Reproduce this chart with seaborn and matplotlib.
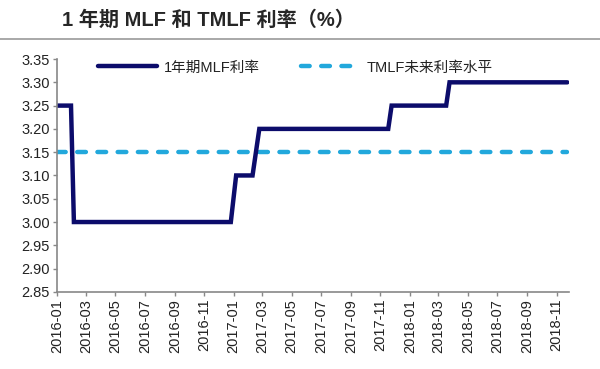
import pandas as pd
import numpy as np
import matplotlib
matplotlib.use('Agg')
import matplotlib.pyplot as plt
import matplotlib.dates as mdates
from matplotlib.lines import Line2D
import seaborn as sns

# 1-year MLF rate (each change has a start and end point)
mlf_dates = ['2016-01-01', '2016-01-30', '2016-02-05', '2016-12-26', '2017-01-06',
             '2017-02-09', '2017-02-23', '2017-11-17', '2017-11-24', '2018-03-17',
             '2018-03-24', '2018-11-23']
mlf_values = [3.25, 3.25, 3.00, 3.00, 3.10, 3.10, 3.20, 3.20, 3.25, 3.25, 3.30, 3.30]

# TMLF rate level
tmlf_dates = ['2016-01-01', '2018-11-23']
tmlf_values = [3.15, 3.15]

title = '1 年期 MLF 和 TMLF 利率（%）'
mlf_label = '1年期MLF利率'
tmlf_label = 'TMLF未来利率水平'
y_ticks = [2.85, 2.90, 2.95, 3.00, 3.05, 3.10, 3.15, 3.20, 3.25, 3.30, 3.35]

mlf = pd.DataFrame({'date': pd.to_datetime(mlf_dates), 'rate': mlf_values})
tmlf = pd.DataFrame({'date': pd.to_datetime(tmlf_dates), 'rate': tmlf_values})

sns.set_theme(style='white')
plt.rcParams['font.family'] = ['Liberation Sans', 'Noto Sans CJK SC', 'DejaVu Sans']

navy = '#0c0c6b'
sky = '#22a8dc'
dash = [1.95, 2.6]

fig = plt.figure(figsize=(6, 3.69), dpi=100)
ax = fig.add_axes([0.095, 0.209, 0.853, 0.631])

sns.lineplot(data=tmlf, x='date', y='rate', ax=ax, color=sky, lw=3.2)
ax.lines[-1].set_dashes(dash)
ax.lines[-1].set_dash_capstyle('round')
sns.lineplot(data=mlf, x='date', y='rate', ax=ax, color=navy, lw=3.2,
             solid_capstyle='round', solid_joinstyle='miter')

ax.set_xlim(pd.Timestamp('2016-01-01'), pd.Timestamp('2018-11-26'))
ax.set_ylim(2.85, 3.35)
ax.set_yticks(y_ticks)
ax.yaxis.set_major_formatter(matplotlib.ticker.FormatStrFormatter('%.2f'))
ax.xaxis.set_major_locator(mdates.MonthLocator(bymonth=[1, 3, 5, 7, 9, 11]))
ax.xaxis.set_major_formatter(mdates.DateFormatter('%Y-%m'))
plt.setp(ax.get_xticklabels(), rotation=90)
ax.set_xlabel('')
ax.set_ylabel('')

for s in ['top', 'right']:
    ax.spines[s].set_visible(False)
for s in ['left', 'bottom']:
    ax.spines[s].set_color('#888888')
    ax.spines[s].set_linewidth(1.2)
ax.tick_params(axis='both', which='major', direction='out', length=3, width=1,
               color='#888888', labelsize=10.5, labelcolor='#222222', pad=2,
               left=True, bottom=True)

handles = [Line2D([], [], color=navy, lw=3.2, solid_capstyle='round'),
           Line2D([], [], color=sky, lw=3.2, dashes=dash, dash_capstyle='round')]
ax.legend(handles, [mlf_label, tmlf_label], ncol=2, frameon=False, loc='upper left',
          bbox_to_anchor=(0.055, 1.05), handlelength=4.0, handletextpad=0.5,
          columnspacing=2.8, fontsize=10.5, labelcolor='#222222')

fig.text(0.103, 0.945, title, fontsize=14.5, fontweight='bold', va='center', ha='left')
fig.add_artist(Line2D([0, 1], [0.895, 0.895], color='#999999', lw=1.2,
                      transform=fig.transFigure))

fig.savefig('out.png', dpi=100, facecolor='white')
